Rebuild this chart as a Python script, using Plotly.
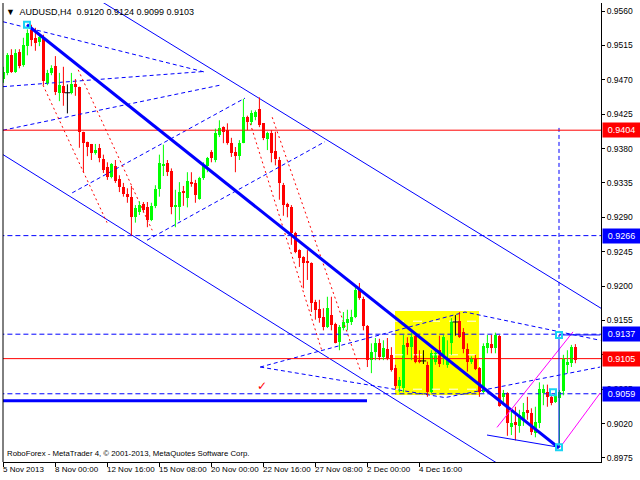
import plotly.graph_objects as go

# ---------------- data (AUDUSD H4, bars indexed 0..143) ----------------
OPEN = [0.9471,0.9479,0.9502,0.9480,0.9506,0.9489,0.9514,0.9535,0.9525,0.9519,
        0.9526,0.9466,0.9479,0.9488,0.9453,0.9462,0.9453,0.9453,0.9464,0.9461,
        0.9402,0.9389,0.9386,0.9374,0.9381,0.9366,0.9356,0.9343,0.9357,0.9340,
        0.9330,0.9320,0.9317,0.9290,0.9297,0.9307,0.9303,0.9286,0.9305,0.9327,
        0.9357,0.9361,0.9350,0.9303,0.9303,0.9324,0.9315,0.9336,0.9335,0.9314,
        0.9341,0.9357,0.9375,0.9365,0.9398,0.9408,0.9404,0.9387,0.9375,0.9370,
        0.9387,0.9421,0.9415,0.9421,0.9432,0.9413,0.9392,0.9400,0.9377,0.9365,
        0.9332,0.9307,0.9303,0.9269,0.9247,0.9238,0.9233,0.9230,0.9179,0.9170,
        0.9160,0.9146,0.9162,0.9150,0.9127,0.9145,0.9152,0.9153,0.9160,0.9195,
        0.9183,0.9148,0.9103,0.9114,0.9125,0.9107,0.9118,0.9110,0.9093,0.9069,
        0.9067,0.9125,0.9120,0.9135,0.9102,0.9102,0.9097,0.9061,0.9101,0.9116,
        0.9110,0.9097,0.9125,0.9153,0.9154,0.9140,0.9118,0.9101,0.9104,0.9093,
        0.9061,0.9119,0.9124,0.9119,0.9135,0.9055,0.9060,0.9015,0.9022,0.9017,
        0.9025,0.9038,0.9034,0.9008,0.9021,0.9060,0.9061,0.9055,0.9048,0.9053,
        0.9062,0.9097,0.9099,0.9120]
HIGH = [0.9487,0.9505,0.9510,0.9510,0.9510,0.9525,0.9536,0.9542,0.9538,0.9530,
        0.9529,0.9483,0.9489,0.9501,0.9479,0.9487,0.9464,0.9479,0.9471,0.9461,
        0.9402,0.9389,0.9386,0.9386,0.9386,0.9372,0.9362,0.9361,0.9365,0.9345,
        0.9335,0.9328,0.9331,0.9306,0.9311,0.9310,0.9310,0.9309,0.9332,0.9372,
        0.9385,0.9365,0.9354,0.9326,0.9336,0.9331,0.9349,0.9349,0.9339,0.9343,
        0.9362,0.9369,0.9378,0.9406,0.9417,0.9409,0.9413,0.9394,0.9382,0.9391,
        0.9445,0.9423,0.9430,0.9430,0.9447,0.9413,0.9402,0.9404,0.9402,0.9369,
        0.9335,0.9309,0.9306,0.9271,0.9248,0.9239,0.9247,0.9231,0.9182,0.9182,
        0.9171,0.9186,0.9186,0.9152,0.9149,0.9166,0.9169,0.9169,0.9199,0.9204,
        0.9186,0.9149,0.9125,0.9132,0.9131,0.9129,0.9132,0.9120,0.9097,0.9081,
        0.9136,0.9133,0.9139,0.9136,0.9116,0.9116,0.9101,0.9116,0.9119,0.9135,
        0.9136,0.9129,0.9158,0.9162,0.9166,0.9145,0.9125,0.9108,0.9110,0.9094,
        0.9125,0.9136,0.9136,0.9139,0.9136,0.9064,0.9061,0.9038,0.9042,0.9038,
        0.9047,0.9055,0.9040,0.9042,0.9074,0.9071,0.9071,0.9057,0.9061,0.9064,
        0.9110,0.9116,0.9123,0.9124]
LOW = [0.9466,0.9476,0.9479,0.9479,0.9485,0.9487,0.9502,0.9514,0.9508,0.9514,
       0.9463,0.9463,0.9476,0.9450,0.9442,0.9436,0.9426,0.9451,0.9449,0.9381,
       0.9349,0.9370,0.9365,0.9372,0.9362,0.9348,0.9339,0.9341,0.9335,0.9323,
       0.9317,0.9309,0.9266,0.9283,0.9293,0.9296,0.9277,0.9285,0.9302,0.9317,
       0.9344,0.9344,0.9294,0.9277,0.9286,0.9305,0.9303,0.9330,0.9309,0.9313,
       0.9339,0.9349,0.9362,0.9362,0.9395,0.9387,0.9385,0.9369,0.9349,0.9365,
       0.9387,0.9404,0.9411,0.9417,0.9408,0.9391,0.9378,0.9362,0.9358,0.9313,
       0.9292,0.9290,0.9254,0.9243,0.9225,0.9197,0.9208,0.9166,0.9156,0.9152,
       0.9142,0.9145,0.9142,0.9125,0.9116,0.9142,0.9142,0.9149,0.9158,0.9182,
       0.9142,0.9094,0.9086,0.9103,0.9103,0.9103,0.9103,0.9088,0.9065,0.9061,
       0.9061,0.9110,0.9103,0.9099,0.9099,0.9098,0.9055,0.9060,0.9097,0.9094,
       0.9097,0.9093,0.9110,0.9135,0.9132,0.9112,0.9088,0.9098,0.9090,0.9055,
       0.9060,0.9112,0.9112,0.9112,0.9042,0.9047,0.9004,0.9005,0.8998,0.9008,
       0.9017,0.9025,0.9005,0.9002,0.9014,0.9044,0.9042,0.9044,0.9047,0.8988,
       0.9057,0.9086,0.9094,0.9099]
CLOSE = [0.9480,0.9502,0.9480,0.9505,0.9488,0.9516,0.9531,0.9522,0.9518,0.9526,
         0.9468,0.9479,0.9485,0.9454,0.9463,0.9453,0.9453,0.9464,0.9461,0.9402,
         0.9387,0.9382,0.9374,0.9378,0.9368,0.9352,0.9343,0.9360,0.9337,0.9330,
         0.9320,0.9317,0.9290,0.9302,0.9306,0.9300,0.9286,0.9305,0.9327,0.9361,
         0.9360,0.9349,0.9303,0.9306,0.9323,0.9322,0.9337,0.9334,0.9319,0.9341,
         0.9358,0.9368,0.9368,0.9400,0.9407,0.9402,0.9387,0.9374,0.9370,0.9387,
         0.9421,0.9415,0.9426,0.9428,0.9411,0.9394,0.9400,0.9374,0.9366,0.9335,
         0.9306,0.9303,0.9269,0.9245,0.9237,0.9230,0.9230,0.9178,0.9169,0.9158,
         0.9146,0.9171,0.9149,0.9125,0.9146,0.9153,0.9157,0.9160,0.9195,0.9184,
         0.9148,0.9103,0.9114,0.9125,0.9107,0.9119,0.9106,0.9090,0.9069,0.9077,
         0.9123,0.9120,0.9133,0.9101,0.9101,0.9102,0.9061,0.9112,0.9112,0.9098,
         0.9133,0.9106,0.9154,0.9153,0.9133,0.9118,0.9101,0.9106,0.9092,0.9061,
         0.9121,0.9125,0.9119,0.9136,0.9043,0.9060,0.9021,0.9021,0.9018,0.9031,
         0.9035,0.9034,0.9009,0.9022,0.9065,0.9065,0.9055,0.9047,0.9059,0.9061,
         0.9104,0.9101,0.9120,0.9103]

SYMBOL = "AUDUSD,H4"
X_TICK_BARS = [0, 13, 26, 39, 52, 65, 78, 91, 104]
X_TICK_LABELS = ["5 Nov 2013", "8 Nov 00:00", "12 Nov 16:00", "15 Nov 08:00", "20 Nov 00:00",
                 "22 Nov 16:00", "27 Nov 08:00", "2 Dec 00:00", "4 Dec 16:00"]
Y_TICKS = [0.9560, 0.9515, 0.9470, 0.9425, 0.9380, 0.9335, 0.9290, 0.9245,
           0.9200, 0.9155, 0.9110, 0.9065, 0.9020, 0.8975]

LEVELS = [(0.9404, "#ff0000", "solid"), (0.9105, "#ff0000", "solid"),
          (0.9266, "#0000ff", "dash"), (0.9137, "#0000ff", "dash"), (0.9059, "#0000ff", "dash")]

TREND_MAIN = [(5.9, 0.9542), (138.9, 0.8988)]
CHANNEL_UP = [(20, 0.9587), (150, 0.9169)]
CHANNEL_DN = [(-1, 0.9375), (125, 0.8963)]
BASE_LINE = [(-1, 0.9050), (90.9, 0.9050)]
DASHED_BLUE = [
    [(-0.1, 0.9546), (50.4, 0.9480)],
    [(-0.1, 0.9461), (50.4, 0.9481)],
    [(-0.1, 0.9404), (54.2, 0.9463)],
    [(17.2, 0.9322), (60.4, 0.9446)],
    [(35.9, 0.9260), (80.4, 0.9389)],
    [(64.2, 0.9094), (115.4, 0.9166), (149.2, 0.9129)],
    [(64.2, 0.9094), (110.4, 0.9054), (149.2, 0.9094)],
    [(138.9, 0.9407), (138.9, 0.9139)],
]
RED_DOTTED = [
    [(9.9, 0.9463), (25.9, 0.9283)],
    [(18.7, 0.9483), (37.2, 0.9273)],
    [(61.7, 0.9413), (79.7, 0.9114)],
    [(67.2, 0.9421), (89.2, 0.9090)],
]
MAGENTA = [[(123.4, 0.9015), (142.4, 0.9140)], [(139.2, 0.8989), (149.2, 0.9060)]]
BLUE_THIN = [[(120.9, 0.9005), (138.9, 0.8989)], [(138.9, 0.9136), (138.9, 0.8989)],
             [(138.9, 0.9136), (149.2, 0.9136)]]
BLUE_POINTS = [(5.9, 0.9542), (138.9, 0.8989), (138.9, 0.9136), (137.4, 0.9061)]
BOX = dict(x0=97.9, x1=118.9, y0=0.90574, y1=0.91673)
BOX_LEVELS = [0.9154, 0.9110, 0.9065]
CHECK_MARK = (64.7, 0.9069)

FONT = "Liberation Sans, Arial, sans-serif"
GREEN, RED = "#00ff00", "#ff0000"

fig = go.Figure()

fig.add_shape(type="rect", xref="x", yref="y", layer="below", line_width=0,
              fillcolor="#ffff00", **BOX)
for lv in BOX_LEVELS:
    fig.add_trace(go.Scatter(x=[BOX["x0"], BOX["x1"]], y=[lv, lv], mode="lines",
                             line=dict(color="white", width=1, dash="dash"), hoverinfo="skip"))

def seg(points):
    return [p[0] for p in points], [p[1] for p in points]

for pts in (CHANNEL_UP, CHANNEL_DN):
    xs, ys = seg(pts)
    fig.add_trace(go.Scatter(x=xs, y=ys, mode="lines", line=dict(color="#0000ff", width=1)))
for pts in DASHED_BLUE:
    xs, ys = seg(pts)
    fig.add_trace(go.Scatter(x=xs, y=ys, mode="lines",
                             line=dict(color="#0000ff", width=1, dash="4px,3px")))
for pts in RED_DOTTED:
    xs, ys = seg(pts)
    fig.add_trace(go.Scatter(x=xs, y=ys, mode="lines",
                             line=dict(color="#ff0000", width=1, dash="2px,3px")))

for price, col, dash in LEVELS:
    fig.add_trace(go.Scatter(x=[-5, 160], y=[price, price], mode="lines",
                             line=dict(color=col, width=1, dash="5px,3px" if dash == "dash" else None)))

n = len(OPEN)
groups = {"up": GREEN, "down": RED, "doji": "#000000"}
for key, col in groups.items():
    idx = [i for i in range(n) if (CLOSE[i] > OPEN[i] if key == "up" else
                                   CLOSE[i] < OPEN[i] if key == "down" else CLOSE[i] == OPEN[i])]
    wx, wy = [], []
    for i in idx:
        wx += [i, i, None]
        wy += [LOW[i], HIGH[i], None]
    fig.add_trace(go.Scatter(x=wx, y=wy, mode="lines", line=dict(color=col, width=1)))
    if key != "doji":
        fig.add_trace(go.Bar(x=idx, y=[abs(CLOSE[i] - OPEN[i]) for i in idx],
                             base=[min(OPEN[i], CLOSE[i]) for i in idx],
                             width=0.75, marker=dict(color=col, line_width=0)))
    else:
        fig.add_trace(go.Scatter(x=idx, y=[OPEN[i] for i in idx], mode="markers",
                                 marker=dict(symbol="line-ew", size=4,
                                             line=dict(color=col, width=1))))

xs, ys = seg(TREND_MAIN)
fig.add_trace(go.Scatter(x=xs, y=ys, mode="lines", line=dict(color="#0000ff", width=3)))
xs, ys = seg(BASE_LINE)
fig.add_trace(go.Scatter(x=xs, y=ys, mode="lines", line=dict(color="#0000ff", width=3)))
for pts in MAGENTA:
    xs, ys = seg(pts)
    fig.add_trace(go.Scatter(x=xs, y=ys, mode="lines", line=dict(color="#ff00ff", width=1)))
for pts in BLUE_THIN:
    xs, ys = seg(pts)
    fig.add_trace(go.Scatter(x=xs, y=ys, mode="lines", line=dict(color="#0000ff", width=1)))
fig.add_trace(go.Scatter(x=[p[0] for p in BLUE_POINTS], y=[p[1] for p in BLUE_POINTS],
                         mode="markers", marker=dict(symbol="square-open", size=6,
                                                     line=dict(color="#0000ff", width=2))))

annotations = []
for price, col, dash in LEVELS:
    annotations.append(dict(xref="paper", yref="y", x=1, y=price, xanchor="left", yanchor="middle",
                            text=f"{price:.4f}", showarrow=False, bgcolor=col, xshift=1,
                            font=dict(family=FONT, size=9, color="white"),
                            width=35, height=12, align="center", borderpad=1))
for b, lab in zip(X_TICK_BARS, X_TICK_LABELS):
    annotations.append(dict(xref="x", yref="paper", x=b, y=0, xanchor="left", yanchor="top",
                            text=lab, showarrow=False, yshift=-1, xshift=-2,
                            font=dict(family=FONT, size=8, color="black")))
annotations.append(dict(xref="paper", yref="paper", x=0, y=1, xanchor="left", yanchor="top",
                        text=f"\u25BC  {SYMBOL}  {OPEN[-1]:.4f} {HIGH[-1]:.4f} {LOW[-1]:.4f} {CLOSE[-1]:.4f}",
                        showarrow=False, xshift=1, yshift=-2,
                        font=dict(family=FONT, size=9, color="black")))
annotations.append(dict(xref="paper", yref="paper", x=0, y=0, xanchor="left", yanchor="bottom",
                        text="RoboForex - MetaTrader 4, \u00a9 2001-2013, MetaQuotes Software Corp.",
                        showarrow=False, xshift=2, yshift=2,
                        font=dict(family=FONT, size=7.8, color="black")))
annotations.append(dict(xref="x", yref="y", x=CHECK_MARK[0], y=CHECK_MARK[1], text="\u2713",
                        showarrow=False, font=dict(family="DejaVu Sans", size=12, color="#ff0000")))

fig.add_shape(type="line", xref="paper", yref="paper", x0=0, x1=0, y0=0, y1=1,
              line=dict(color="black", width=1))

fig.update_layout(
    width=640, height=480, margin=dict(l=3, r=39, t=3, b=18),
    paper_bgcolor="white", plot_bgcolor="white", showlegend=False,
    barmode="overlay", bargap=0, annotations=annotations,
    xaxis=dict(range=[-0.1, 149.4], showgrid=False, zeroline=False, showline=True,
               linecolor="black", linewidth=1, ticks="outside", ticklen=4, tickcolor="black",
               tickvals=X_TICK_BARS, showticklabels=False, fixedrange=True),
    yaxis=dict(range=[0.89697, 0.95705], side="right", showgrid=False, zeroline=False,
               showline=True, linecolor="black", linewidth=1, ticks="outside", ticklen=3,
               tickcolor="black", tickvals=Y_TICKS, ticktext=[f"{v:.4f}" for v in Y_TICKS],
               tickfont=dict(family=FONT, size=8.5, color="black"), fixedrange=True),
)

fig.write_html("out.html", config={"displayModeBar": False},
               post_script="document.body.style.margin='0px';")
